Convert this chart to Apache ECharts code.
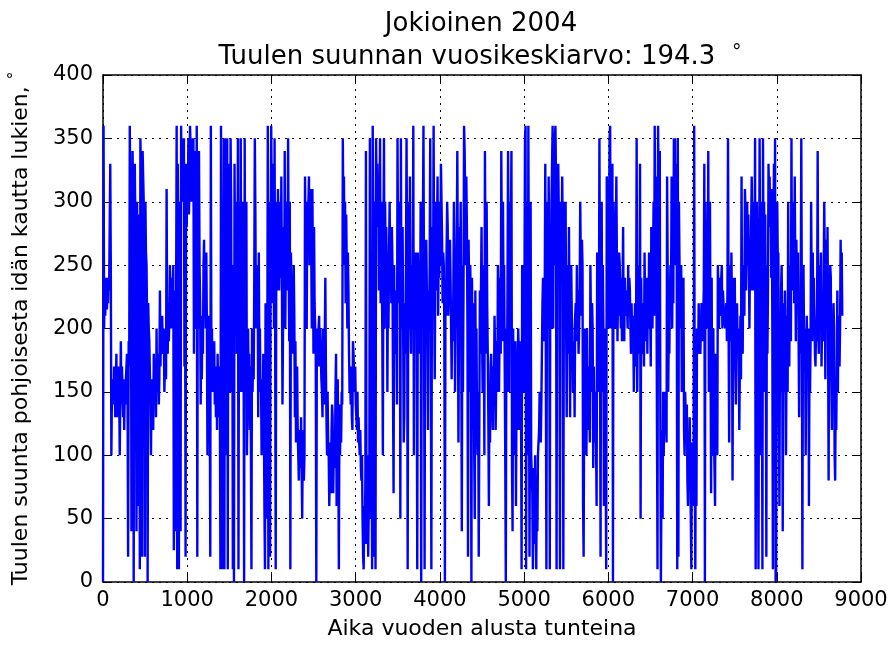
<!DOCTYPE html>
<html>
<head>
<meta charset="utf-8">
<script src="https://cdn.jsdelivr.net/npm/echarts@6/dist/echarts.min.js"></script>
<style>
  html, body { margin: 0; padding: 0; background: #fff; }
  #chart { width: 896px; height: 650px; }
</style>
</head>
<body>
<div id="chart"></div>
<script>
// Hourly wind direction at Jokioinen, 2004 (degrees from north via east).
// Readings are grouped in eight consecutive stretches of the year; each
// stretch lists its readings in time order between the hours given below.
const stretchHours = [
  [0, 1113], [1113, 2238], [2238, 3363], [3363, 4488],
  [4488, 5613], [5613, 6738], [6738, 7863], [7863, 8784]
];

const dirStretch1 = [
  0,360,200,240,210,230, 240,215,235,220,240,230, 230,330,250,100,150,140,
  160,140,170,150,130,160, 180,130,160,140,170,150, 100,150,190,140,170,150,
  130,160,120,150,140,160, 160,180,150,20,190,170, 360,300,330,40,250,340,
  300,0,320,330,280,240, 40,300,240,60,290,250, 10,350,320,300,20,340,
  340,300,250,20,300,260, 250,210,0,220,200,190, 190,140,100,160,130,150,
  120,180,160,140,170,130, 200,150,170,180,140,160, 230,170,200,180,210,190,
  180,200,150,170,190,160, 310,200,180,220,190,210, 250,220,200,240,210,230,
  250,25,200,230,40,220, 360,10,330,250,10,300, 250,40,360,300,330,350,
  340,350,170,300,20,330, 280,320,300,350,290,310, 360,340,300,330,350,310,
  350,180,290,200,340,260
];
const dirStretch2 = [
  360,20,300,200,340,250, 220,140,200,160,210,180, 250,270,210,240,200,260,
  200,100,190,150,210,170, 20,360,170,200,150,180, 150,190,140,170,130,160,
  120,180,150,130,170,140, 10,360,200,10,300,180, 350,10,300,220,350,100,
  350,10,280,200,330,150, 350,300,150,250,10,200, 0,330,250,200,300,180,
  200,350,10,250,300,150, 350,180,150,250,300,200, 0,350,200,150,300,100,
  100,200,160,180,120,170, 110,10,200,150,180,160, 240,350,290,200,250,220,
  250,130,260,180,200,150, 160,100,140,120,180,130, 60,10,220,100,50,150,
  360,10,220,300,20,250, 360,300,220,250,330,200, 350,200,10,250,300,230,
  310,280,230,260,300,240, 320,240,140,200,280,220, 340,200,260,230,300,250,
  350,250,190,300,10,260
];
const dirStretch3 = [
  260,200,230,180,250,210, 130,190,110,150,170,120, 100,80,110,120,90,130,
  90,50,110,120,80,100, 320,250,290,200,300,260, 300,320,250,280,310,260,
  200,310,250,180,280,220, 220,180,0,200,170,190, 190,210,170,200,180,160,
  150,130,200,170,140,190, 240,170,130,100,150,110, 100,60,90,110,70,120,
  140,130,70,100,120,90, 150,180,60,130,160,100, 10,140,100,130,110,150,
  140,350,280,320,250,300, 220,290,250,200,260,230, 180,150,160,140,170,130,
  120,190,180,160,150,170, 140,130,120,150,110,130, 110,100,120,90,80,100,
  50,20,10,60,30,80, 340,50,30,100,20,60, 70,350,140,50,120,10,
  360,280,20,300,250,10, 350,300,330,280,320,230, 230,350,220,300,250,200,
  100,270,350,200,300,250
];
const dirStretch4 = [
  280,250,150,230,200,260, 300,240,260,220,280,250, 150,70,250,180,200,230,
  200,140,350,250,300,220, 300,50,350,200,250,280, 200,110,130,220,180,250,
  350,250,10,220,300,200, 320,210,180,250,200,230, 360,100,240,200,260,220,
  200,10,260,230,180,250, 200,300,0,250,220,280, 360,220,10,250,200,270,
  270,190,120,230,210,250, 350,200,10,240,280,220, 360,220,160,250,300,230,
  280,320,210,260,240,300, 250,330,300,270,220,260, 250,200,0,230,210,260,
  300,280,210,250,230,270, 240,200,160,220,190,230, 300,250,150,200,230,260,
  340,250,110,200,280,220, 300,200,40,250,150,230, 360,340,300,250,320,280,
  200,20,270,230,150,250, 200,0,240,180,120,220, 100,50,230,150,200,120,
  100,150,20,120,230,180
];
const dirStretch5 = [
  230,280,190,150,250,200, 100,340,250,180,300,220, 180,130,60,150,110,170,
  180,160,140,120,170,150, 210,180,120,160,190,150, 250,230,150,200,240,180,
  340,260,190,300,220,250, 250,100,0,200,150,230, 340,260,150,300,200,280,
  340,90,40,200,120,150, 100,190,60,150,120,170, 200,180,120,160,190,140,
  10,250,200,230,150,220, 350,360,10,200,300,100, 360,200,20,150,300,100,
  100,70,10,60,90,30, 100,60,10,80,40,100, 100,120,150,130,110,140,
  180,220,240,200,190,230, 330,170,10,250,300,200, 320,250,10,280,200,300,
  300,360,200,330,250,350, 360,320,10,300,250,330, 330,250,10,280,300,260,
  320,270,10,250,300,230, 300,200,130,250,180,220, 280,200,130,230,250,210,
  200,150,170,190,130,210
];
const dirStretch6 = [
  220,190,250,200,230,180, 200,230,300,250,210,270, 250,60,20,150,200,120,
  130,100,200,150,120,170, 170,110,250,200,150,220, 200,90,170,130,110,150,
  110,60,260,200,150,180, 350,200,20,250,300,150, 250,200,60,150,200,100,
  10,320,300,250,200,280, 350,360,200,300,250,330, 0,300,220,250,200,270,
  320,250,190,230,210,260, 250,220,200,240,190,230, 280,200,190,240,220,210,
  230,220,200,250,210,240, 230,200,180,220,190,210, 200,150,180,220,170,190,
  350,150,200,250,180,220, 330,50,240,200,220,180, 200,170,260,220,190,240,
  230,180,240,210,260,200, 210,170,280,230,200,250, 300,210,360,280,320,250,
  250,10,360,300,200,340, 130,0,80,120,50,150, 100,150,150,120,130,110,
  320,250,150,200,180,230
];
const dirStretch7 = [
  250,230,320,200,280,220, 350,300,350,250,330,280, 10,350,20,300,250,200,
  200,250,150,220,180,240, 120,100,150,130,110,140, 80,60,110,90,130,100,
  50,10,110,80,60,100, 360,100,10,150,60,200, 200,180,220,190,210,180,
  180,220,200,190,210,230, 330,0,300,250,200,280, 200,340,150,250,300,180,
  70,240,100,150,200,120, 90,60,180,120,150,100, 250,230,200,240,220,210,
  240,250,200,230,220,210, 210,200,210,220,190,230, 350,200,110,250,220,190,
  260,220,80,200,240,180, 240,170,140,200,220,190, 200,180,120,170,210,160,
  320,200,180,250,230,210, 310,290,230,270,300,250, 290,250,200,260,230,280,
  320,280,230,260,300,250, 350,10,200,300,250,150, 10,200,350,250,100,300,
  200,10,350,250,300,150
];
const dirStretch8 = [
  290,200,20,250,180,230, 330,300,320,280,310,240, 310,200,10,280,330,250,
  350,0,10,200,300,250, 260,130,60,200,150,230, 250,200,40,180,220,150,
  230,200,100,180,210,150, 300,200,170,250,220,190, 350,230,280,250,300,220,
  320,250,190,270,230,240, 260,200,130,220,180,230, 350,220,10,200,250,190,
  200,190,100,170,210,180, 170,200,60,180,150,190, 300,230,190,260,210,240,
  210,180,170,200,190,220, 340,200,180,250,210,230, 260,170,200,220,190,240,
  300,250,160,230,270,200, 280,200,80,230,180,250, 240,160,120,200,180,220,
  200,100,80,150,120,170, 230,150,210,190,170,200, 270,210,260,210
];

const xTicks = { min: 0, max: 9000, step: 1000 };
const yTicks = { min: 0, max: 400, step: 50 };

const stretches = [dirStretch1, dirStretch2, dirStretch3, dirStretch4,
                   dirStretch5, dirStretch6, dirStretch7, dirStretch8];

// Pair each reading with its hour of the year.
const seriesData = [];
stretches.forEach((vals, k) => {
  const [h0, h1] = stretchHours[k];
  const dt = (h1 - h0) / vals.length;
  vals.forEach((v, i) => seriesData.push([h0 + i * dt, v]));
});

const FONT = '"DejaVu Sans", sans-serif';
const labelStyle = { color: '#000', fontFamily: FONT, fontSize: 21 };
const gridDots = { show: true, lineStyle: { color: '#000', width: 1, type: [2, 5] } };
const frameLine = { show: true, onZero: false, lineStyle: { color: '#000', width: 1.5 } };
const innerTick = { show: true, inside: true, length: 8, lineStyle: { color: '#000', width: 1 } };

const chart = echarts.init(document.getElementById('chart'), null, { renderer: 'canvas' });
chart.setOption({
  animation: false,
  backgroundColor: '#fff',
  grid: { left: 101, right: 35, top: 75, bottom: 68, containLabel: false },
  graphic: [
    {
      type: 'text', x: 481, y: 24,
      style: {
        text: 'Jokioinen 2004', fill: '#000',
        font: '26px "DejaVu Sans"',
        align: 'center', verticalAlign: 'middle',
        textAlign: 'center', textVerticalAlign: 'middle'
      }
    },
    {
      type: 'text', x: 480, y: 57,
      style: {
        text: 'Tuulen suunnan vuosikeskiarvo: 194.3  {deg|°}', fill: '#000',
        font: '26px "DejaVu Sans"',
        align: 'center', verticalAlign: 'middle',
        textAlign: 'center', textVerticalAlign: 'middle',
        rich: { deg: { fontSize: 19, fontFamily: 'DejaVu Sans', verticalAlign: 'top', fill: '#000', padding: [0, 0, 8, 0] } }
      }
    }
  ],
  xAxis: [
    {
      type: 'value', position: 'bottom',
      min: xTicks.min, max: xTicks.max, interval: xTicks.step,
      name: 'Aika vuoden alusta tunteina', nameLocation: 'middle', nameGap: 36,
      nameTextStyle: { color: '#000', fontFamily: FONT, fontSize: 22 },
      axisLine: frameLine, axisTick: innerTick,
      axisLabel: Object.assign({ margin: 8, formatter: v => String(v) }, labelStyle),
      splitLine: gridDots
    },
    {
      type: 'value', position: 'top',
      min: xTicks.min, max: xTicks.max, interval: xTicks.step,
      axisLine: frameLine, axisTick: innerTick,
      axisLabel: { show: false }, splitLine: { show: false }
    }
  ],
  yAxis: [
    {
      type: 'value', position: 'left',
      min: yTicks.min, max: yTicks.max, interval: yTicks.step,
      name: 'Tuulen suunta pohjoisesta idän kautta lukien, {deg|°}',
      nameLocation: 'middle', nameGap: 68, nameRotate: 90,
      nameTextStyle: {
        color: '#000', fontFamily: FONT, fontSize: 22,
        rich: { deg: { fontSize: 15, fontFamily: FONT, color: '#000', verticalAlign: 'top', padding: [0, 0, 12, 0] } }
      },
      axisLine: frameLine, axisTick: innerTick,
      axisLabel: Object.assign({ margin: 10, formatter: v => String(v) }, labelStyle),
      splitLine: gridDots
    },
    {
      type: 'value', position: 'right',
      min: yTicks.min, max: yTicks.max, interval: yTicks.step,
      axisLine: frameLine, axisTick: innerTick,
      axisLabel: { show: false }, splitLine: { show: false }
    }
  ],
  series: [{
    type: 'line',
    xAxisIndex: 0, yAxisIndex: 0,
    data: seriesData,
    showSymbol: false,
    symbol: 'none',
    sampling: null,
    clip: true,
    lineStyle: { color: '#0000ff', width: 2.4 }
  }]
});
</script>
</body>
</html>
